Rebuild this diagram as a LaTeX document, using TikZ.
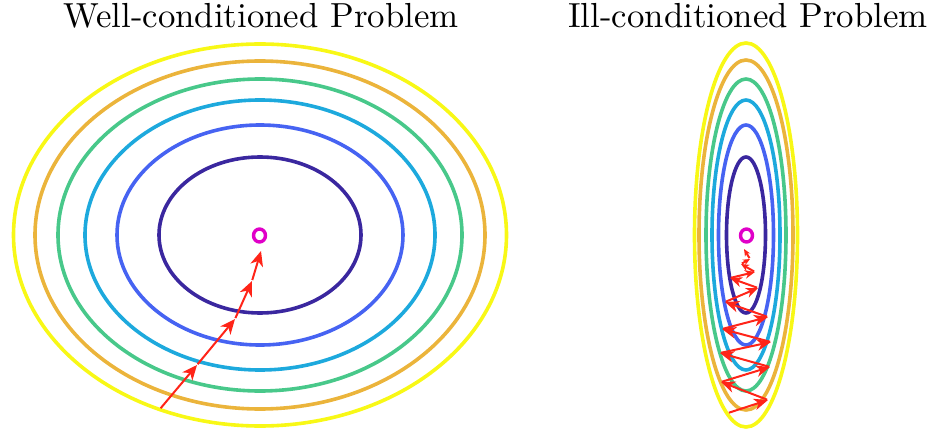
\documentclass[tikz,border=0pt]{standalone}
\usetikzlibrary{arrows.meta,shapes.geometric}

\begin{document}
\begin{tikzpicture}[x=1pt,y=-1pt]
    \definecolor{lvlA}{HTML}{3A279F}
    \definecolor{lvlB}{HTML}{4663F2}
    \definecolor{lvlC}{HTML}{1DA9DD}
    \definecolor{lvlD}{HTML}{48C88A}
    \definecolor{lvlE}{HTML}{EBB43B}
    \definecolor{lvlF}{HTML}{F8F816}
    \definecolor{minmark}{HTML}{E000C8}
    \definecolor{stepred}{HTML}{FF2418}
    \tikzset{steparrow/.style 2 args={-{Stealth[length=#1pt,width=#2pt,inset=0.3*#1pt]},stepred,line width=2pt,shorten <=1pt},
      minring/.style={ellipse,draw=minmark,line width=3.4pt,minimum width=12pt,minimum height=13pt,inner sep=0pt}}
    \useasboundingbox (0,0) rectangle (932,433);
    % Titulos
    \node[anchor=base,scale=3.48] (titleWell) at (261,28) {Well-conditioned Problem};
    \node[anchor=base,scale=3.48] (titleIll) at (748,28) {Ill-conditioned Problem};
    % Curvas de nivel, caso bien condicionado
    \foreach \rx/\ry/\col in {101/78/lvlA,143/110/lvlB,175/135/lvlC,202/156/lvlD,225/174/lvlE,246.5/191/lvlF}
      \draw[\col,line width=3.6pt] (260,235) ellipse (\rx pt and \ry pt);
    % Curvas de nivel, caso mal condicionado
    \foreach \rx/\ry/\col in {19.5/78/lvlA,27.5/110/lvlB,34/135/lvlC,40/156/lvlD,47/175/lvlE,51.5/192/lvlF}
      \draw[\col,line width=3.6pt] (746,235) ellipse (\rx pt and \ry pt);
    % Minimos
    \node[minring] (minWell) at (259.5,235.5) {};
    \node[minring] (minIll) at (746.5,235.5) {};
    % Pasos del descenso (bien condicionado)
    \foreach \px/\py [count=\k] in {160/409,197/365,235/319,252/281,261/251}
      \coordinate (w\k) at (\px,\py);
    \foreach \k [remember=\k as \prev (initially 1)] in {2,...,5}
      \draw[steparrow={15}{13}] (w\prev) -- (w\k);
    % Pasos del descenso (mal condicionado, zigzag)
    \foreach \px/\py [count=\k] in {728/413,768/400,721/382,770/367,720/353,771/342,722/329,768/317,725/302,758/288,730/278,755/272,741/264,750/259,744/249}
      \coordinate (z\k) at (\px,\py);
    \foreach \k/\hl/\hw [remember=\k as \prev (initially 1)] in {2/14/11.5,3/14/11.5,4/14/11.5,5/14/11.5,6/14/11.5,7/14/11.5,8/14/11.5,9/14/11.5,10/12/10,11/12/10,12/10/8.5,13/8/7,14/7/6,15/7/6}
      \draw[steparrow={\hl}{\hw}] (z\prev) -- (z\k);
  \end{tikzpicture}
\end{document}
